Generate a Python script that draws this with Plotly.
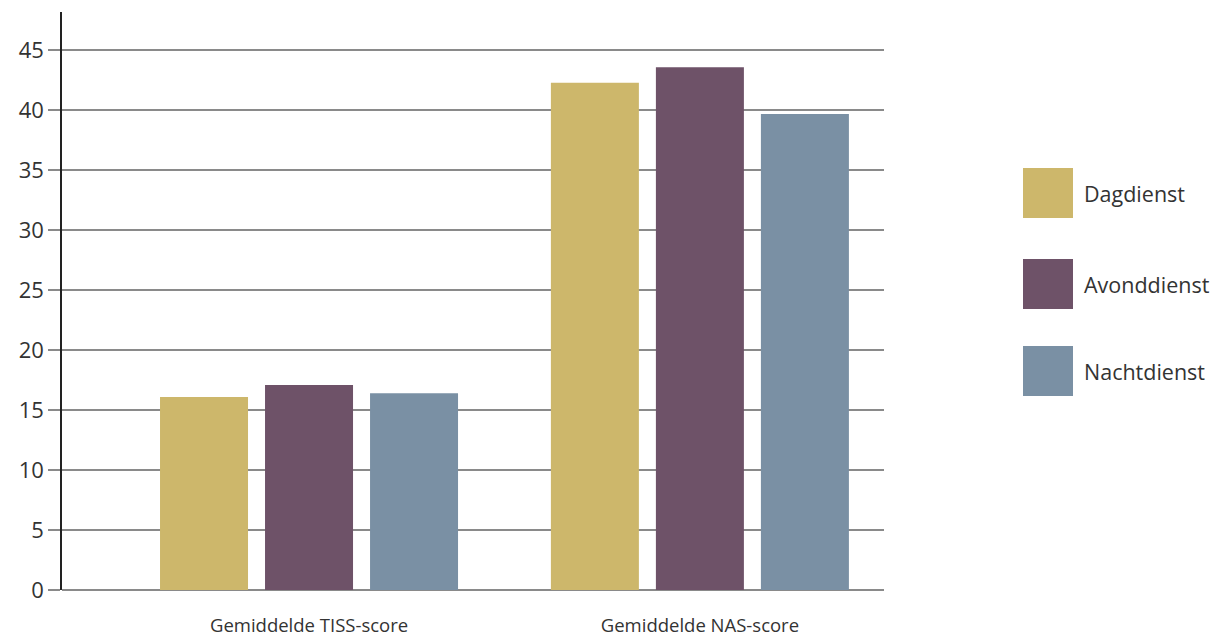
import plotly.graph_objects as go

categories = ["Gemiddelde TISS-score", "Gemiddelde NAS-score"]
series_names = ["Dagdienst", "Avonddienst", "Nachtdienst"]
dagdienst = [16.1, 42.3]
avonddienst = [17.1, 43.6]
nachtdienst = [16.4, 39.7]
y_ticks = [0, 5, 10, 15, 20, 25, 30, 35, 40, 45]

colors = ["#CDB76B", "#6E5268", "#7A90A4"]
values = [dagdienst, avonddienst, nachtdienst]

fig = go.Figure()
for name, vals, col in zip(series_names, values, colors):
    fig.add_trace(go.Bar(x=categories, y=vals, name=name, marker_color=col,
                         marker_line_width=0, showlegend=False))

font_family = "Open Sans, Noto Sans, sans-serif"

# legend drawn as big squares with labels
legend_y = [193, 284, 371]
for name, col, yc in zip(series_names, colors, legend_y):
    fig.add_shape(type="rect", xref="paper", yref="paper",
                  x0=(1023 - 62) / 822, x1=(1073 - 62) / 822,
                  y0=(590 - (yc + 25)) / 578, y1=(590 - (yc - 25)) / 578,
                  fillcolor=col, line_width=0)
    fig.add_annotation(xref="paper", yref="paper", x=(1082 - 62) / 822,
                       y=(590 - yc) / 578, text=name, showarrow=False,
                       xanchor="left", yanchor="middle",
                       font=dict(size=21.5, color="#333333", family=font_family))

fig.update_layout(
    width=1216, height=638,
    margin=dict(l=62, r=332, t=12, b=48, autoexpand=False),
    plot_bgcolor="white", paper_bgcolor="white",
    barmode="group", bargap=0.194, bargroupgap=0.162,
    font=dict(family=font_family, color="#333333"),
    xaxis=dict(range=[-0.632, 1.471], showgrid=False, showline=False,
               automargin=False,
               ticks="outside", ticklen=19, tickcolor="rgba(0,0,0,0)",
               tickfont=dict(size=18.5, color="#333333"), zeroline=False),
    yaxis=dict(range=[0, 48.2], tickvals=y_ticks, showgrid=True,
               automargin=False,
               gridcolor="#8a8a8a", gridwidth=1.5,
               zeroline=True, zerolinecolor="#8a8a8a", zerolinewidth=1.5,
               showline=True, linecolor="#222222", linewidth=1.5,
               ticks="outside", ticklen=12, tickcolor="#8a8a8a", tickwidth=1.5,
               tickfont=dict(size=22, color="#333333")),
)

fig.write_html("out.html")
